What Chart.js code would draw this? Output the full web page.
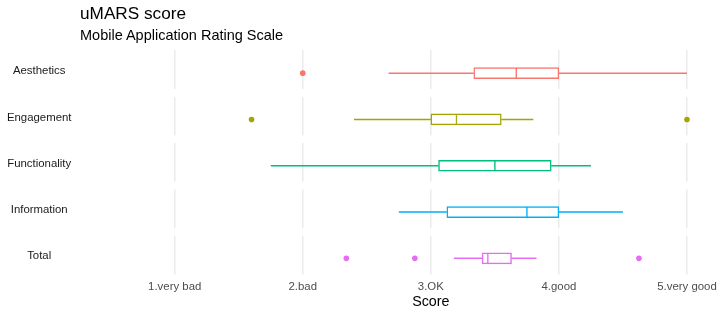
<!DOCTYPE html>
<html>
  <head>
    <meta charset="UTF-8">
    <title>uMARS score</title>
    <style>
      body { margin: 0; background: #fff; }
      #wrap { position: relative; width: 718px; height: 310px; font-family: 'Liberation Sans', Arial, sans-serif; color: #000; }
      #wrap canvas { position: absolute; left: 0; top: 0; }
      .ttl { position: absolute; left: 80px; white-space: nowrap; }
      #title { top: 5.4px; font-size: 17.2px; line-height: 17.2px; }
      #subtitle { top: 27.5px; font-size: 14.5px; line-height: 14.5px; }
    </style>
  </head>
  <body>
    <div id="wrap">
      <canvas id="boxChart" width="718" height="310"></canvas>
      <div id="title" class="ttl">uMARS score</div>
      <div id="subtitle" class="ttl">Mobile Application Rating Scale</div>
    </div>
    <script src="https://cdn.jsdelivr.net/npm/chart.js"></script>
    <script>
      // values
      const categories  = ['Aesthetics', 'Engagement', 'Functionality', 'Information', 'Total'];
      const whiskerLow  = [2.67, 2.40, 1.75, 2.75, 3.18];
      const q1          = [3.335, 3.00, 3.06, 3.125, 3.40];
      const median      = [3.667, 3.20, 3.50, 3.75, 3.445];
      const q3          = [4.00, 3.55, 3.94, 4.00, 3.63];
      const whiskerHigh = [5.00, 3.80, 4.25, 4.50, 3.825];
      const outliers    = [[2.0], [1.6, 5.0], [], [], [2.34, 2.875, 4.625]];

      const tickValues = [1, 2, 3, 4, 5];
      const tickLabels = ['1.very bad', '2.bad', '3.OK', '4.good', '5.very good'];

      const colors = ['#F8766D', '#A3A500', '#00BF7D', '#00B0F6', '#E76BF3'];
      const font = "'Liberation Sans', Arial, sans-serif";

      const datasets = [];

      // box halves: [q1, median] and [median, q3]
      datasets.push({
        type: 'bar',
        data: categories.map((c, i) => [q1[i], median[i]]),
        backgroundColor: '#ffffff',
        borderColor: colors,
        borderWidth: { top: 1.5, bottom: 1.5, left: 1.5, right: 1 },
        borderSkipped: false,
        barThickness: 11,
        grouped: false,
        order: 1
      });
      datasets.push({
        type: 'bar',
        data: categories.map((c, i) => [median[i], q3[i]]),
        backgroundColor: '#ffffff',
        borderColor: colors,
        borderWidth: { top: 1.5, bottom: 1.5, left: 1, right: 1.5 },
        borderSkipped: false,
        barThickness: 11,
        grouped: false,
        order: 1
      });

      // whiskers, one line per category, gap over the box
      categories.forEach((c, i) => {
        datasets.push({
          type: 'line',
          data: [
            { x: whiskerLow[i], y: c },
            { x: q1[i], y: c },
            { x: null, y: c },
            { x: q3[i], y: c },
            { x: whiskerHigh[i], y: c }
          ],
          borderColor: colors[i],
          borderWidth: 1.5,
          pointRadius: 0,
          spanGaps: false,
          order: 2
        });
      });

      // outlier points
      const outPts = [];
      const outCols = [];
      outliers.forEach((arr, i) => {
        arr.forEach(v => {
          outPts.push({ x: v, y: categories[i] });
          outCols.push(colors[i]);
        });
      });
      datasets.push({
        type: 'line',
        data: outPts,
        showLine: false,
        pointRadius: 2.8,
        pointBorderWidth: 0,
        pointBackgroundColor: outCols,
        pointBorderColor: outCols,
        order: 0
      });

      // white strips between facet panels
      const facetGaps = {
        id: 'facetGaps',
        beforeDatasetsDraw(chart) {
          const { ctx, chartArea, scales } = chart;
          const y = scales.y;
          ctx.save();
          ctx.fillStyle = '#ffffff';
          categories.forEach((c, i) => {
            const top = y.getPixelForValue(i + 0.345);
            const bottom = y.getPixelForValue(i + 0.5);
            ctx.fillRect(chartArea.left, top, chartArea.right - chartArea.left, bottom - top + 0.5);
          });
          ctx.restore();
        }
      };

      new Chart(document.getElementById('boxChart'), {
        type: 'bar',
        data: { labels: categories, datasets: datasets },
        options: {
          indexAxis: 'y',
          responsive: false,
          animation: false,
          layout: { padding: { top: 50, right: 5.4, bottom: 0, left: 0 } },
          plugins: {
            legend: { display: false },
            tooltip: { enabled: false }
          },
          scales: {
            x: {
              type: 'linear',
              min: 0.8,
              max: 5.2,
              afterBuildTicks: axis => { axis.ticks = tickValues.map(v => ({ value: v })); },
              afterFit: axis => {
                axis.height = 28.5;
                axis.paddingLeft = 0;
                axis.paddingRight = 0;
              },
              grid: { color: '#ebebeb', lineWidth: 1.5, drawTicks: false },
              border: { display: false },
              ticks: {
                padding: -1.8,
                color: '#4d4d4d',
                font: { family: font, size: 11.4 },
                callback: v => tickLabels[tickValues.indexOf(v)]
              },
              title: {
                display: true,
                text: 'Score',
                color: '#000',
                font: { family: font, size: 14.3 },
                padding: { top: 0, bottom: -0.8 }
              }
            },
            y: {
              type: 'category',
              afterFit: axis => {
                axis.width = 149.1;
                axis.paddingTop = 0;
                axis.paddingBottom = 0;
              },
              grid: { display: false, drawTicks: false },
              border: { display: false },
              ticks: {
                crossAlign: 'center',
                padding: 77.6,
                labelOffset: -2,
                color: '#1a1a1a',
                font: { family: font, size: 11.4 }
              }
            }
          }
        },
        plugins: [facetGaps]
      });
    </script>
  </body>
</html>
